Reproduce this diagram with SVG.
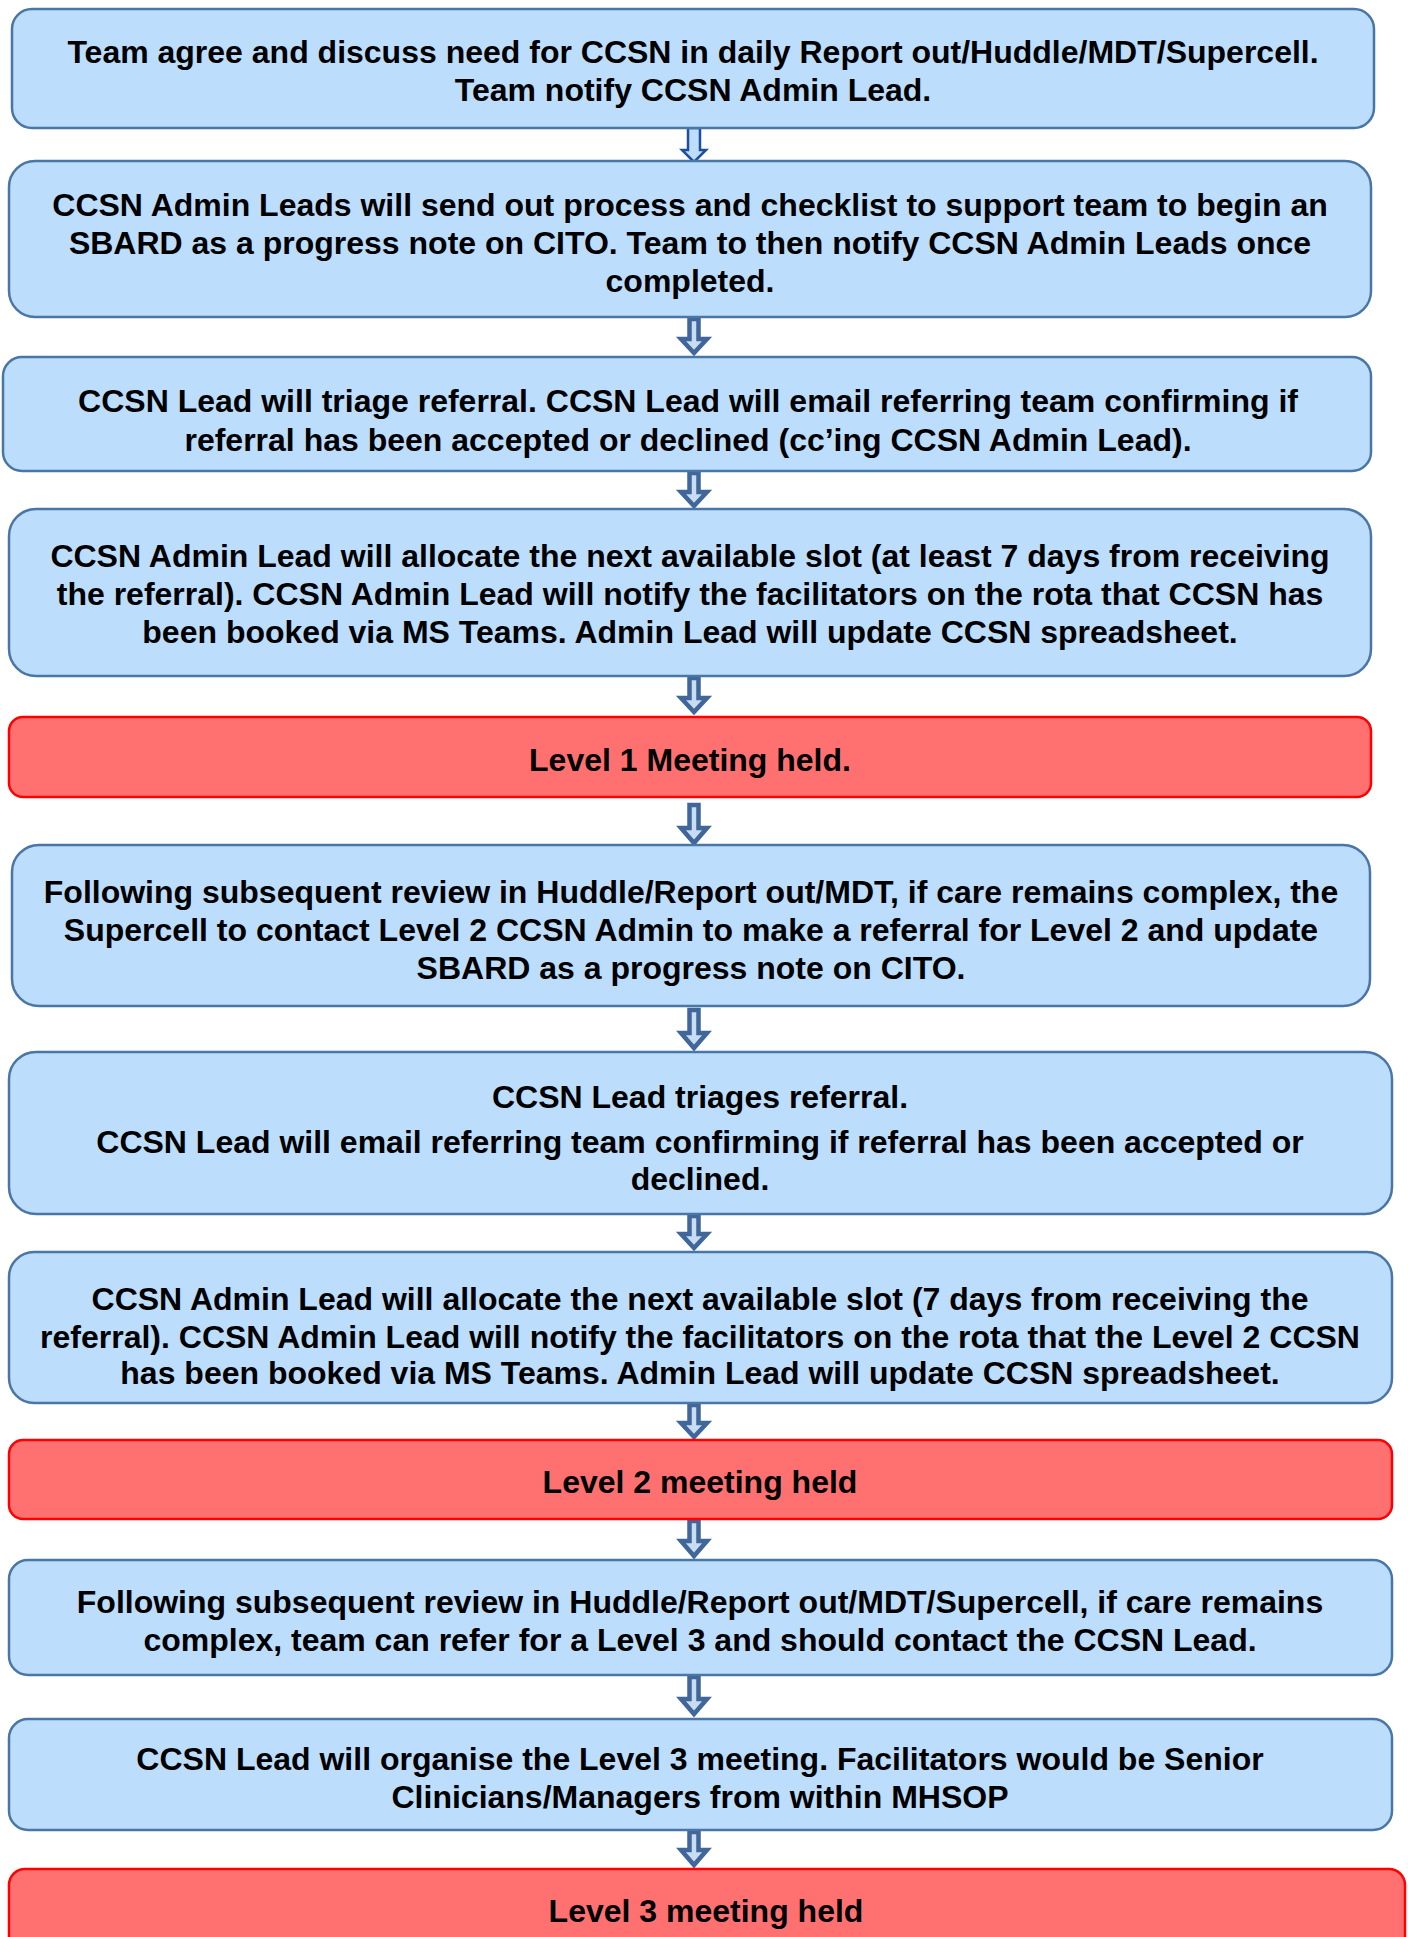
<svg xmlns="http://www.w3.org/2000/svg" width="1408" height="1937" viewBox="0 0 1408 1937">
<style>
.b{fill:#BDDDFD;stroke:#4A76A6;stroke-width:2.5}
.r{fill:#FF7171;stroke:#FF0000;stroke-width:2.5}
text{font-family:"Liberation Sans",Arial,sans-serif;font-weight:bold;font-size:32px;fill:#000;text-anchor:middle}
.a{fill:#C9DDF2;stroke:#41669A;stroke-width:4.5;stroke-linejoin:miter}
.a1{fill:#BDDDFD;stroke:#1F4E9A;stroke-width:2.5;stroke-linejoin:miter}
</style>
<rect width="1408" height="1937" fill="#fff"/>
<g id="connectors">
<path class="a1" d="M688,128 V150 H682 L694,162 L706,150 H700 V128 Z"/>
<path class="a" d="M689.5,319 V339 H681 L694,353 L707,339 H698.5 V319 Z"/>
<path class="a" d="M689.5,473 V492 H681 L694,506 L707,492 H698.5 V473 Z"/>
<path class="a" d="M689.5,678 V698 H681 L694,712 L707,698 H698.5 V678 Z"/>
<path class="a" d="M689.5,805 V828 H681 L694,843 L707,828 H698.5 V805 Z"/>
<path class="a" d="M689.5,1010 V1033 H681 L694,1048 L707,1033 H698.5 V1010 Z"/>
<path class="a" d="M689.5,1216 V1234 H681 L694,1248 L707,1234 H698.5 V1216 Z"/>
<path class="a" d="M689.5,1405 V1423 H681 L694,1437 L707,1423 H698.5 V1405 Z"/>
<path class="a" d="M689.5,1521 V1541 H681 L694,1556 L707,1541 H698.5 V1521 Z"/>
<path class="a" d="M689.5,1677 V1699 H681 L694,1714 L707,1699 H698.5 V1677 Z"/>
<path class="a" d="M689.5,1832 V1850 H681 L694,1865 L707,1850 H698.5 V1832 Z"/>
</g>
<g id="n1"><rect class="b" x="12" y="9" width="1362" height="119" rx="20"/>
<text x="693" y="63">Team agree and discuss need for CCSN in daily Report out/Huddle/MDT/Supercell.</text>
<text x="693" y="101">Team notify CCSN Admin Lead.</text></g>
<g id="n2"><rect class="b" x="9" y="161" width="1362" height="156" rx="26"/>
<text x="690" y="216">CCSN Admin Leads will send out process and checklist to support team to begin an</text>
<text x="690" y="254">SBARD as a progress note on CITO. Team to then notify CCSN Admin Leads once</text>
<text x="690" y="292">completed.</text></g>
<g id="n3"><rect class="b" x="3" y="357" width="1368" height="114" rx="19"/>
<text x="688" y="412">CCSN Lead will triage referral. CCSN Lead will email referring team confirming if</text>
<text x="688" y="451">referral has been accepted or declined (cc’ing CCSN Admin Lead).</text></g>
<g id="n4"><rect class="b" x="9" y="509" width="1362" height="167" rx="27"/>
<text x="690" y="567">CCSN Admin Lead will allocate the next available slot (at least 7 days from receiving</text>
<text x="690" y="605">the referral). CCSN Admin Lead will notify the facilitators on the rota that CCSN has</text>
<text x="690" y="643">been booked via MS Teams. Admin Lead will update CCSN spreadsheet.</text></g>
<g id="n5"><rect class="r" x="9" y="717" width="1362" height="80" rx="14"/>
<text x="690" y="771">Level 1 Meeting held.</text></g>
<g id="n6"><rect class="b" x="12" y="845" width="1358" height="161" rx="27"/>
<text x="691" y="903">Following subsequent review in Huddle/Report out/MDT, if care remains complex, the</text>
<text x="691" y="941">Supercell to contact Level 2 CCSN Admin to make a referral for Level 2 and update</text>
<text x="691" y="979">SBARD as a progress note on CITO.</text></g>
<g id="n7"><rect class="b" x="9" y="1052" width="1383" height="162" rx="27"/>
<text x="700" y="1108">CCSN Lead triages referral.</text>
<text x="700" y="1153">CCSN Lead will email referring team confirming if referral has been accepted or</text>
<text x="700" y="1190">declined.</text></g>
<g id="n8"><rect class="b" x="9" y="1252" width="1383" height="151" rx="25"/>
<text x="700" y="1310">CCSN Admin Lead will allocate the next available slot (7 days from receiving the</text>
<text x="700" y="1348">referral). CCSN Admin Lead will notify the facilitators on the rota that the Level 2 CCSN</text>
<text x="700" y="1384">has been booked via MS Teams. Admin Lead will update CCSN spreadsheet.</text></g>
<g id="n9"><rect class="r" x="9" y="1440" width="1383" height="79" rx="14"/>
<text x="700" y="1493">Level 2 meeting held</text></g>
<g id="n10"><rect class="b" x="9" y="1560" width="1383" height="115" rx="19"/>
<text x="700" y="1613">Following subsequent review in Huddle/Report out/MDT/Supercell, if care remains</text>
<text x="700" y="1651">complex, team can refer for a Level 3 and should contact the CCSN Lead.</text></g>
<g id="n11"><rect class="b" x="9" y="1719" width="1383" height="111" rx="19"/>
<text x="700" y="1770">CCSN Lead will organise the Level 3 meeting. Facilitators would be Senior</text>
<text x="700" y="1808">Clinicians/Managers from within MHSOP</text></g>
<g id="n12"><rect class="r" x="9" y="1869" width="1396" height="100" rx="16"/>
<text x="706" y="1922">Level 3 meeting held</text></g>
</svg>
